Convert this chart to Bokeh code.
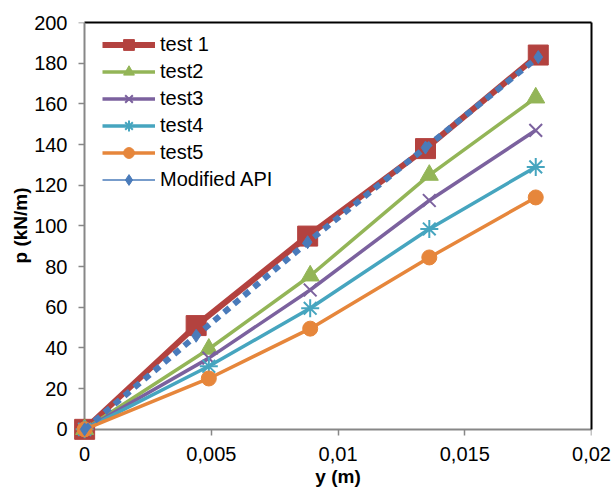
import math
from bokeh.plotting import figure
from bokeh.models import (Range1d, FixedTicker, Legend, LegendItem, LinearAxis,
                          Label)
from bokeh.embed import file_html
from bokeh.resources import INLINE

# ---- data ----
x_tick_values = [0, 0.005, 0.01, 0.015, 0.02]
x_tick_labels = ["0", "0,005", "0,01", "0,015", "0,02"]
y_tick_values = [0, 20, 40, 60, 80, 100, 120, 140, 160, 180, 200]

x_test1 = [0, 0.0044, 0.0088, 0.01345, 0.0179]
p_test1 = [0, 51, 95, 138, 184]

x_tests = [0, 0.0049, 0.0089, 0.0136, 0.0178]
p_test2 = [0, 39.5, 75.5, 125, 163]
p_test3 = [0, 35, 68.5, 112.5, 147]
p_test4 = [0, 31, 59.5, 98.5, 129]
p_test5 = [0, 25, 49.5, 84.5, 114]

x_api = [0, 0.0044, 0.0088, 0.01345, 0.0179]
p_api = [0, 46, 92, 138.5, 183]

FONT = "Liberation Sans"

# small padding below/left of the axes so the markers at the origin are not clipped
p = figure(width=613, height=487,
           x_range=Range1d(-0.0004, 0.02), y_range=Range1d(-5, 200),
           output_backend="svg", toolbar_location=None,
           x_axis_location=None, y_axis_location=None,
           min_border_left=74, min_border_right=22,
           min_border_top=22, min_border_bottom=48)
p.grid.visible = False
p.background_fill_color = "white"
p.border_fill_color = "white"
p.outline_line_color = None

axis_gray = "#878787"

# axis lines + ticks, positioned at x=0 / y=0
xaxis = LinearAxis(fixed_location=0, bounds=(0, 0.02),
                   ticker=FixedTicker(ticks=x_tick_values))
yaxis = LinearAxis(fixed_location=0, bounds=(0, 200),
                   ticker=FixedTicker(ticks=y_tick_values))
for ax in (xaxis, yaxis):
    ax.axis_line_color = axis_gray
    ax.axis_line_width = 2
    ax.major_tick_line_color = axis_gray
    ax.major_tick_line_width = 1.5
    ax.major_tick_in = 0
    ax.major_tick_out = 6
    ax.minor_tick_line_color = None
    ax.major_label_text_color = None
p.add_layout(xaxis, "below")
p.add_layout(yaxis, "left")

# tick labels (label-only axes at the frame edges)
xlab = LinearAxis(ticker=FixedTicker(ticks=x_tick_values),
                  major_label_overrides=dict(zip(x_tick_values, x_tick_labels)))
ylab = LinearAxis(ticker=FixedTicker(ticks=y_tick_values))
for ax in (xlab, ylab):
    ax.axis_line_color = None
    ax.major_tick_line_color = None
    ax.minor_tick_line_color = None
    ax.major_tick_in = 0
    ax.major_tick_out = 0
    ax.major_label_text_font = FONT
    ax.major_label_text_font_size = "20px"
    ax.major_label_text_color = "black"
xlab.major_label_standoff = 7
ylab.major_label_standoff = 7
p.add_layout(xlab, "below")
p.add_layout(ylab, "left")

# axis titles (placed in the side panels so they are not clipped by the frame)
p.add_layout(Label(x=0.01, y=-23.2,
                   text="y (m)", text_align="center", text_baseline="middle",
                   text_font=FONT, text_font_size="19px",
                   text_font_style="bold", text_color="black"), "below")
p.add_layout(Label(x=-0.00253, y=100.2,
                   text="p (kN/m)", angle=math.pi / 2,
                   text_align="center", text_baseline="middle",
                   text_font=FONT, text_font_size="19px",
                   text_font_style="bold", text_color="black"), "left")

# black plot-area border on top and right
top_border = LinearAxis(ticker=FixedTicker(ticks=[]), bounds=(0, 0.02),
                        axis_line_color="black", axis_line_width=2,
                        major_tick_line_color=None, minor_tick_line_color=None,
                        major_label_text_font_size="0px")
right_border = LinearAxis(ticker=FixedTicker(ticks=[]), bounds=(0, 200),
                          axis_line_color="black", axis_line_width=2,
                          major_tick_line_color=None, minor_tick_line_color=None,
                          major_label_text_font_size="0px")
p.add_layout(top_border, "above")
p.add_layout(right_border, "right")

c_red = "#B3423F"
c_green = "#93B557"
c_purple = "#7B619E"
c_teal = "#46A5BF"
c_orange = "#E6863B"
c_blue = "#4A7BBA"

items = []
renderers = []

l1 = p.line(x_test1, p_test1, line_color=c_red, line_width=6)
s1 = p.scatter(x_test1, p_test1, marker="square", size=20,
               fill_color=c_red, line_color=c_red)
items.append(LegendItem(label="test 1", renderers=[l1, s1]))
renderers += [l1, s1]

l2 = p.line(x_tests, p_test2, line_color=c_green, line_width=3.5)
s2 = p.scatter(x_tests, p_test2, marker="triangle", size=18,
               fill_color=c_green, line_color=c_green)
items.append(LegendItem(label="test2", renderers=[l2, s2]))
renderers += [l2, s2]

l3 = p.line(x_tests, p_test3, line_color=c_purple, line_width=3.5)
s3 = p.scatter(x_tests, p_test3, marker="x", size=18,
               line_color=c_purple, line_width=2)
items.append(LegendItem(label="test3", renderers=[l3, s3]))
renderers += [l3, s3]

l4 = p.line(x_tests, p_test4, line_color=c_teal, line_width=3.5)
s4 = p.scatter(x_tests, p_test4, marker="asterisk", size=18,
               line_color=c_teal, line_width=2)
items.append(LegendItem(label="test4", renderers=[l4, s4]))
renderers += [l4, s4]

l5 = p.line(x_tests, p_test5, line_color=c_orange, line_width=3.5)
s5 = p.scatter(x_tests, p_test5, marker="circle", size=15,
               fill_color=c_orange, line_color=c_orange)
items.append(LegendItem(label="test5", renderers=[l5, s5]))
renderers += [l5, s5]

la = p.line(x_api, p_api, line_color=c_blue, line_width=6,
            line_dash="7 6", line_cap="butt")
la_leg = p.line(x_api[:1], p_api[:1], line_color=c_blue, line_width=1.5)
sa = p.scatter(x_api, p_api, marker="diamond", size=13,
               fill_color=c_blue, line_color=c_blue)
items.append(LegendItem(label="Modified API", renderers=[la_leg, sa]))
renderers += [la, la_leg, sa]

# draw the series above the axis lines, as in the reference
for r in renderers:
    r.level = "annotation"

legend = Legend(items=items, location=(28, 246))
legend.glyph_width = 53
legend.glyph_height = 27
legend.label_height = 27
legend.spacing = 0
legend.padding = 7
legend.margin = 0
legend.label_standoff = 5
legend.label_text_font = FONT
legend.label_text_font_size = "20px"
legend.label_text_color = "black"
legend.border_line_color = None
legend.background_fill_alpha = 0
p.add_layout(legend)

open("out.html", "w").write(file_html(p, INLINE))
